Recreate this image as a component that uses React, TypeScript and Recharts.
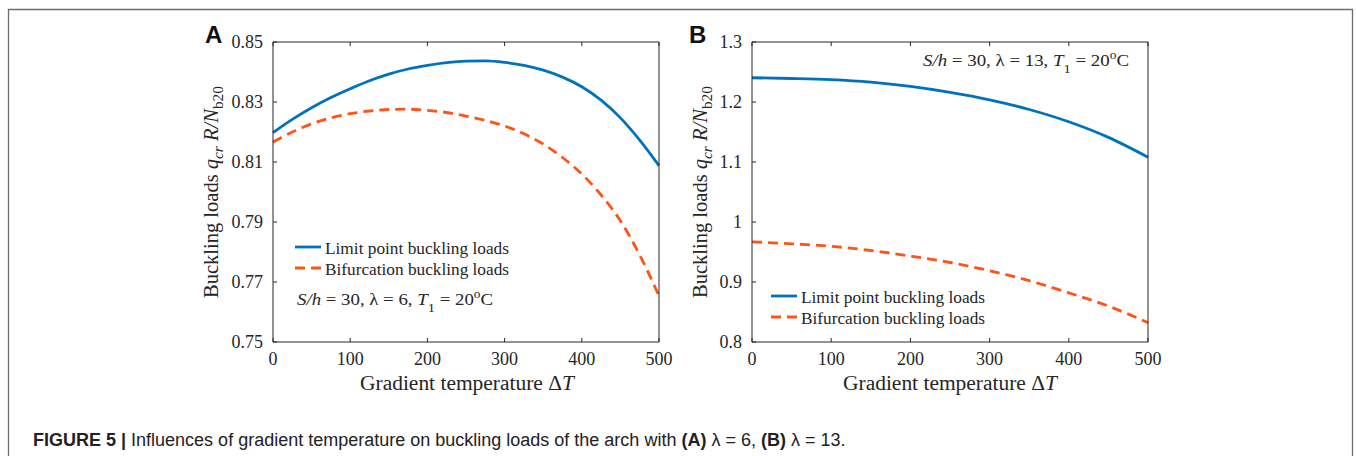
import React from "react";
import { LineChart, Line, XAxis, YAxis } from "recharts";

// gradient temperature ΔT (shared x values)
const tempA = [0, 25, 50, 75, 100, 125, 150, 175, 200, 225, 250, 275, 300, 325, 350, 375, 400, 425, 450, 475, 500];
const limitA = [0.8198, 0.8242, 0.8281, 0.8315, 0.8344, 0.8371, 0.8393, 0.841, 0.8422, 0.8431, 0.8436, 0.8437, 0.8432, 0.8422, 0.8406, 0.8383, 0.8351, 0.8306, 0.8247, 0.8173, 0.8088];
const bifurA = [0.8166, 0.82, 0.8227, 0.8247, 0.8261, 0.827, 0.8275, 0.8276, 0.8272, 0.8265, 0.8253, 0.8239, 0.822, 0.8194, 0.816, 0.8115, 0.806, 0.799, 0.7904, 0.779, 0.7654];

const tempB = [0, 50, 100, 150, 200, 250, 300, 350, 400, 450, 500];
const limitB = [1.2404, 1.2392, 1.2372, 1.233, 1.2259, 1.216, 1.2036, 1.1875, 1.167, 1.141, 1.108];
const bifurB = [0.967, 0.9637, 0.9595, 0.9525, 0.9432, 0.9325, 0.9188, 0.9022, 0.882, 0.8598, 0.8323];

const xTicks = [0, 100, 200, 300, 400, 500];
const yTicksA = [0.75, 0.77, 0.79, 0.81, 0.83, 0.85];
const yTicksB = [0.8, 0.9, 1, 1.1, 1.2, 1.3];

const seriesNames = ["Limit point buckling loads", "Bifurcation buckling loads"];

const BLUE = "#0072BD";
const RED = "#FF5419";
const INK = "#262626";
const SERIF = "'Liberation Serif', 'Times New Roman', serif";
const SANS = "'Liberation Sans', Arial, sans-serif";

const dataA = tempA.map((t, i) => ({ t, limit: limitA[i], bifur: bifurA[i] }));
const dataB = tempB.map((t, i) => ({ t, limit: limitB[i], bifur: bifurB[i] }));

const tickFont = { fill: INK, fontSize: 18, fontFamily: SERIF };
const noLabel = () => <g />;

function Panel({ data, yTicks, yFmt, width, margin }: any) {
  const domain = [yTicks[0], yTicks[yTicks.length - 1]];
  return (
    <LineChart width={width} height={456} data={data} margin={margin}>
      <XAxis dataKey="t" type="number" domain={[0, 500]} ticks={xTicks} height={30}
        tick={tickFont} tickSize={-4} tickMargin={14} stroke={INK} interval={0} />
      <XAxis xAxisId="top" dataKey="t" type="number" domain={[0, 500]} ticks={xTicks} orientation="top"
        height={1} tick={noLabel} tickSize={-4} stroke={INK} interval={0} />
      <YAxis type="number" domain={domain} ticks={yTicks} width={50} tick={tickFont}
        tickFormatter={yFmt} tickSize={-4} tickMargin={14} stroke={INK} interval={0} />
      <YAxis yAxisId="right" orientation="right" type="number" domain={domain} ticks={yTicks} width={1}
        tick={noLabel} tickSize={-4} stroke={INK} interval={0} />
      <Line dataKey="limit" name={seriesNames[0]} type="monotone" stroke={BLUE} strokeWidth={2.8}
        dot={false} isAnimationActive={false} />
      <Line dataKey="bifur" name={seriesNames[1]} type="monotone" stroke={RED} strokeWidth={2.8}
        strokeDasharray="10 6" dot={false} isAnimationActive={false} />
    </LineChart>
  );
}

function LegendBox({ x, y }: { x: number; y: number }) {
  return (
    <g>
      <line x1={x} x2={x + 26} y1={y} y2={y} stroke={BLUE} strokeWidth={2.8} />
      <text x={x + 30} y={y + 6.5} fontSize={17} fontFamily={SERIF} fill={INK}
        textLength={184} lengthAdjust="spacingAndGlyphs">{seriesNames[0]}</text>
      <line x1={x} x2={x + 26} y1={y + 21} y2={y + 21} stroke={RED} strokeWidth={2.8} strokeDasharray="10 6" />
      <text x={x + 30} y={y + 27.5} fontSize={17} fontFamily={SERIF} fill={INK}
        textLength={184} lengthAdjust="spacingAndGlyphs">{seriesNames[1]}</text>
    </g>
  );
}

function Note({ x, y, lam, len }: { x: number; y: number; lam: string; len: number }) {
  return (
    <text x={x} y={y} fontSize={17} fontFamily={SERIF} fill={INK} textLength={len} lengthAdjust="spacingAndGlyphs">
      <tspan fontStyle="italic">S/h</tspan> = 30, λ = {lam}, <tspan fontStyle="italic">T</tspan>
      <tspan fontSize={13} dy={7}>1</tspan>
      <tspan dy={-7}> = 20</tspan>
      <tspan fontSize={12} dy={-7}>o</tspan>
      <tspan dy={7}>C</tspan>
    </text>
  );
}

function YLabel({ x, cy }: { x: number; cy: number }) {
  return (
    <text transform={`translate(${x},${cy}) rotate(-90)`} textAnchor="middle" fontSize={20} fontFamily={SERIF}
      fill={INK} textLength={212} lengthAdjust="spacingAndGlyphs">
      Buckling loads <tspan fontStyle="italic">q</tspan>
      <tspan fontStyle="italic" fontSize={15} dy={5}>cr</tspan>
      <tspan fontStyle="italic" dy={-5}> R/N</tspan>
      <tspan fontSize={15} dy={5}>b20</tspan>
    </text>
  );
}

function XLabel({ cx }: { cx: number }) {
  return (
    <text x={cx} y={390} textAnchor="middle" fontSize={20} fontFamily={SERIF} fill={INK}
      textLength={214} lengthAdjust="spacingAndGlyphs">
      Gradient temperature Δ<tspan fontStyle="italic">T</tspan>
    </text>
  );
}

export default function App() {
  return (
    <div style={{ position: "absolute", left: 0, top: 0, width: 1356, height: 456, background: "#fff", overflow: "hidden" }}>
      <div style={{ position: "absolute", left: 0, top: 0 }}>
        <Panel data={dataA} yTicks={yTicksA} yFmt={(v: number) => v.toFixed(2)} width={700}
          margin={{ top: 41, left: 223, right: 40, bottom: 84 }} />
      </div>
      <div style={{ position: "absolute", left: 680, top: 0 }}>
        <Panel data={dataB} yTicks={yTicksB} yFmt={(v: number) => String(v)} width={676}
          margin={{ top: 41, left: 22, right: 207, bottom: 84 }} />
      </div>
      <svg width={1356} height={456} style={{ position: "absolute", left: 0, top: 0, pointerEvents: "none" }}>
        <path d="M8.5 470 V9.5 H1352.5 V470" fill="none" stroke="#6e6e6e" strokeWidth={1.3} />
        <text x={205} y={43} fontSize={24} fontWeight="bold" fontFamily={SANS} fill="#111">A</text>
        <text x={689} y={43} fontSize={24} fontWeight="bold" fontFamily={SANS} fill="#111">B</text>
        <YLabel x={218} cy={192} />
        <YLabel x={707} cy={192} />
        <XLabel cx={467} />
        <XLabel cx={950} />
        <LegendBox x={295} y={247} />
        <LegendBox x={771} y={296} />
        <Note x={297} y={305} lam="6" len={196} />
        <Note x={923} y={66} lam="13" len={206} />
        <text x={33} y={446} fontSize={18} fontFamily={SANS} fill="#222">
          <tspan fontWeight="bold">FIGURE 5 | </tspan>Influences of gradient temperature on buckling loads of the arch with{" "}
          <tspan fontWeight="bold">(A)</tspan> λ = 6, <tspan fontWeight="bold">(B)</tspan> λ = 13.
        </text>
      </svg>
    </div>
  );
}
